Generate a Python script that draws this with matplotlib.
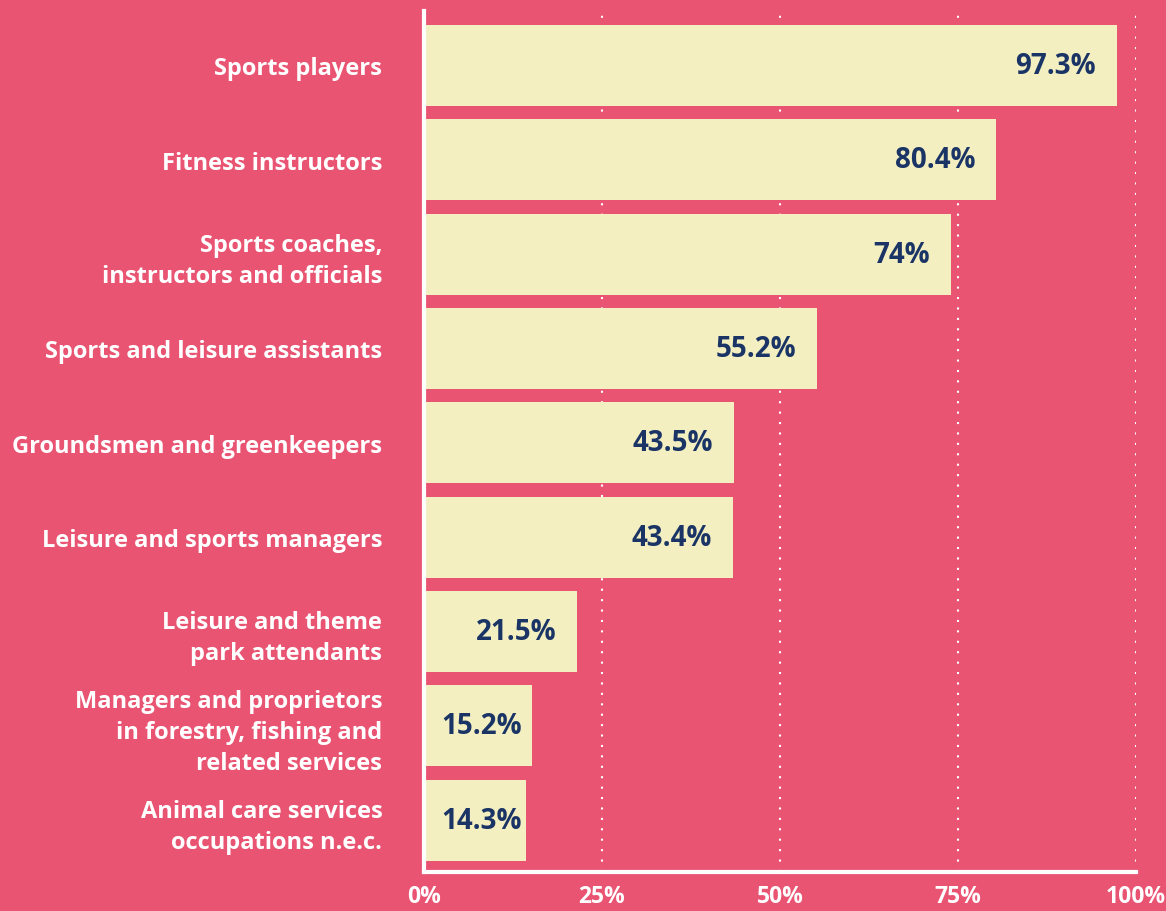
import matplotlib
matplotlib.use("Agg")
import matplotlib.pyplot as plt

categories = [
    "Sports players",
    "Fitness instructors",
    "Sports coaches,\ninstructors and officials",
    "Sports and leisure assistants",
    "Groundsmen and greenkeepers",
    "Leisure and sports managers",
    "Leisure and theme\npark attendants",
    "Managers and proprietors\nin forestry, fishing and\nrelated services",
    "Animal care services\noccupations n.e.c.",
]
values = [97.3, 80.4, 74, 55.2, 43.5, 43.4, 21.5, 15.2, 14.3]
value_labels = ["97.3%", "80.4%", "74%", "55.2%", "43.5%", "43.4%", "21.5%", "15.2%", "14.3%"]
xticks = [0, 25, 50, 75, 100]
xtick_labels = ["0%", "25%", "50%", "75%", "100%"]

BG = "#E95472"
BAR = "#F3EFC1"
NAVY = "#1A3466"
FONT = ["Open Sans", "DejaVu Sans"]

fig = plt.figure(figsize=(11.66, 9.12), dpi=100, facecolor=BG)
ax = fig.add_axes([424/1166, 1 - 873/912, (1136-424)/1166, (873-12)/912])
ax.set_facecolor(BG)

pos = list(range(len(categories)))
ax.barh(pos, values, height=0.86, color=BAR, zorder=2)
ax.set_ylim(len(categories) - 0.45, -0.577)
ax.set_xlim(0, 100)

for p, v, lab in zip(pos, values, value_labels):
    if v < 20:
        ax.annotate(lab, xy=(0, p), xytext=(17, 0), textcoords="offset pixels",
                    ha="left", va="center", color=NAVY, fontsize=20, fontweight="bold",
                    family=FONT, zorder=3)
    else:
        ax.annotate(lab, xy=(v, p), xytext=(-21, 0), textcoords="offset pixels",
                    ha="right", va="center", color=NAVY, fontsize=20, fontweight="bold",
                    family=FONT, zorder=3)

ax.set_yticks(pos)
ax.set_yticklabels(categories, color="white", fontsize=17, fontweight="bold",
                   family=FONT, linespacing=1.38)
ax.tick_params(axis="y", length=0, pad=30)
ax.set_xticks(xticks)
ax.set_xticklabels(xtick_labels, color="white", fontsize=16.5, fontweight="bold", family=FONT)
ax.tick_params(axis="x", length=0, pad=9)

ax.grid(axis="x", color="white", linestyle=(0, (1, 4)), linewidth=1.5, zorder=1)
ax.grid(axis="y", visible=False)
for s in ["top", "right"]:
    ax.spines[s].set_visible(False)
for s in ["left", "bottom"]:
    ax.spines[s].set_color("white")
    ax.spines[s].set_linewidth(3)
    ax.spines[s].set_zorder(4)

fig.savefig("out.png", dpi=100, facecolor=BG)
